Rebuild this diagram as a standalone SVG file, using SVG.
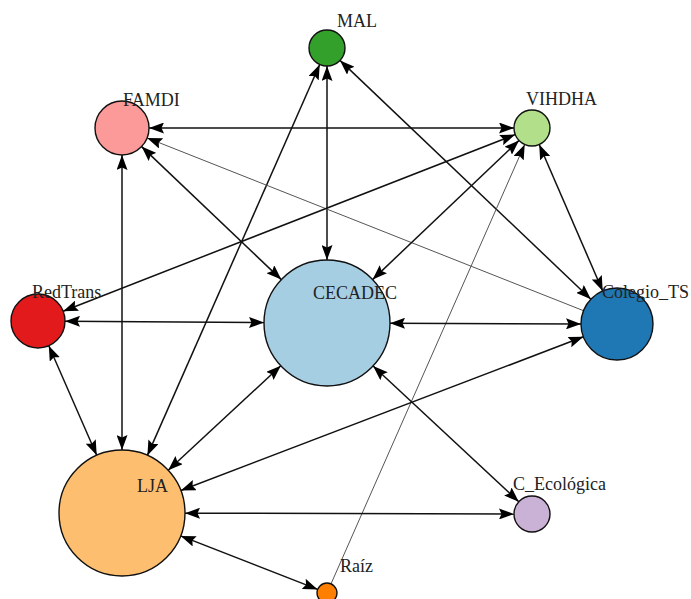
<svg xmlns="http://www.w3.org/2000/svg" width="691" height="599" viewBox="0 0 691 599">
<style>
.e{stroke:#111;stroke-width:1.5;fill:none;marker-start:url(#a);marker-end:url(#a)}
.t{stroke:#555;stroke-width:1;fill:none;marker-start:url(#a)}
.n{stroke:#111;stroke-width:1.4}
.l{font-family:"Liberation Serif","Times New Roman",serif;font-size:18px;fill:#222}
</style>
<defs>
<marker id="a" viewBox="0 0 15 11" refX="15" refY="5.5" markerWidth="15" markerHeight="11" markerUnits="userSpaceOnUse" orient="auto-start-reverse"><path d="M0,0 L15,5.5 L0,11 L2.5,5.5 z" fill="#000"/></marker>
</defs>
<rect width="691" height="599" fill="#fff"/>
<g id="edges">
<line class="e" x1="327" y1="66" x2="327" y2="260"/>
<line class="e" x1="319.7" y1="64.5" x2="147.4" y2="455.4"/>
<line class="e" x1="340" y1="60.4" x2="590.9" y2="299.2"/>
<line class="e" x1="149" y1="128" x2="514" y2="128"/>
<line class="e" x1="141.6" y1="146.6" x2="281.3" y2="279.6"/>
<line class="t" x1="147.1" y1="137.9" x2="583.5" y2="310.7"/>
<line class="e" x1="122" y1="155" x2="122" y2="450"/>
<line class="e" x1="519" y1="140.4" x2="372.6" y2="279.6"/>
<line class="e" x1="515.2" y1="134.6" x2="63.1" y2="311.2"/>
<line class="t" x1="524.7" y1="144.5" x2="331" y2="583.9"/>
<line class="e" x1="539.2" y1="144.5" x2="602.7" y2="291"/>
<line class="e" x1="65" y1="321.2" x2="264" y2="322.6"/>
<line class="e" x1="48.8" y1="345.7" x2="96.7" y2="455.3"/>
<line class="e" x1="390" y1="323.2" x2="581" y2="323.9"/>
<line class="e" x1="280.8" y1="365.8" x2="168.2" y2="470.2"/>
<line class="e" x1="373.1" y1="366" x2="518.8" y2="501.7"/>
<line class="e" x1="583.4" y1="336.8" x2="180.8" y2="490.5"/>
<line class="e" x1="185" y1="513.2" x2="514" y2="514"/>
<line class="e" x1="180.7" y1="535.9" x2="317.7" y2="589.4"/>
</g>
<g id="MAL"><circle class="n" cx="327" cy="48" r="18" fill="#33a02c"/><text class="l" x="337" y="27">MAL</text></g>
<g id="FAMDI"><circle class="n" cx="122" cy="128" r="27" fill="#fb9a99"/><text class="l" x="123" y="106">FAMDI</text></g>
<g id="VIHDHA"><circle class="n" cx="532" cy="128" r="18" fill="#b2df8a"/><text class="l" x="526" y="105">VIHDHA</text></g>
<g id="RedTrans"><circle class="n" cx="38" cy="321" r="27" fill="#e31a1c"/><text class="l" x="32" y="298">RedTrans</text></g>
<g id="CECADEC"><circle class="n" cx="327" cy="323" r="63" fill="#a6cee3"/><text class="l" x="313" y="299">CECADEC</text></g>
<g id="Colegio_TS"><circle class="n" cx="617" cy="324" r="36" fill="#1f78b4"/><text class="l" x="602" y="298">Colegio_TS</text></g>
<g id="LJA"><circle class="n" cx="122" cy="513" r="63" fill="#fdbf6f"/><text class="l" x="137" y="492">LJA</text></g>
<g id="C_Ecologica"><circle class="n" cx="532" cy="514" r="18" fill="#cab2d6"/><text class="l" x="513" y="490">C_Ecológica</text></g>
<g id="Raiz"><circle class="n" cx="327" cy="593" r="10" fill="#ff7f00"/><text class="l" x="340" y="572">Raíz</text></g>
</svg>
